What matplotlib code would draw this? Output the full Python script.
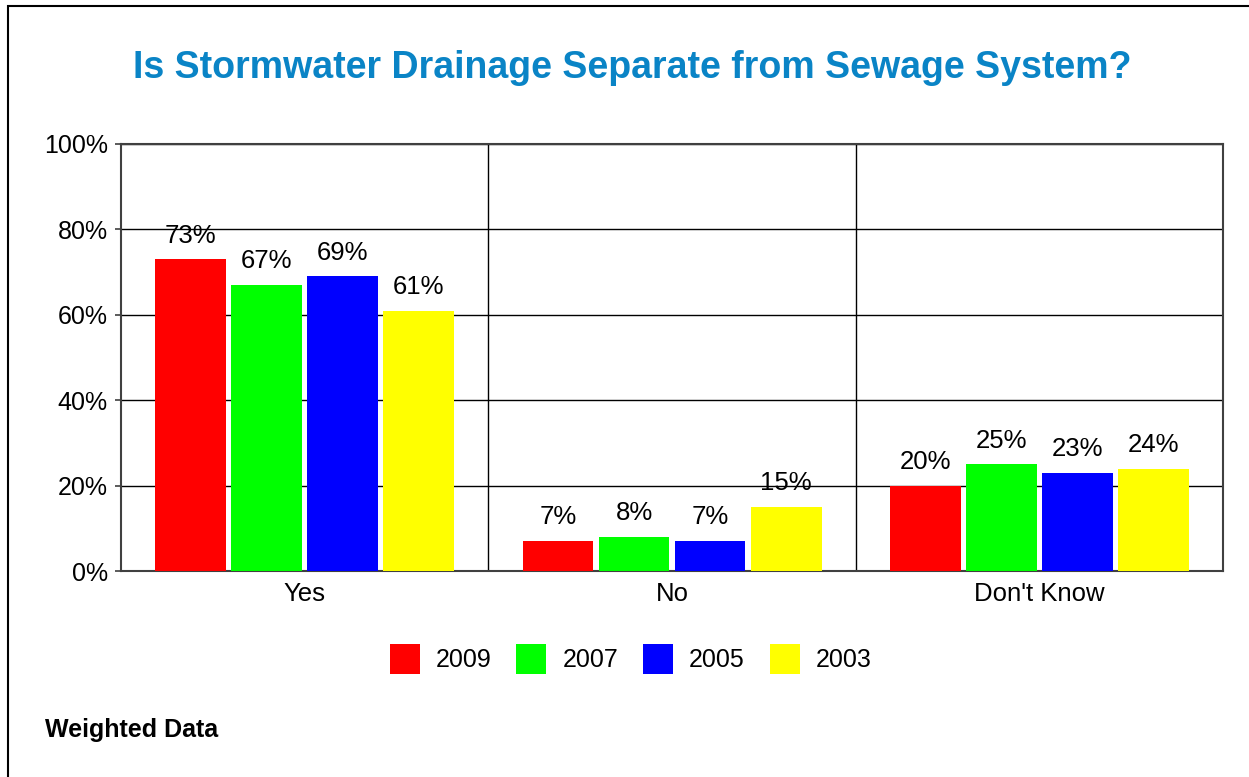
import numpy as np
import matplotlib.pyplot as plt
from matplotlib.patches import Rectangle

plt.rcParams['font.family'] = ['Liberation Sans', 'DejaVu Sans']

# data
categories = ["Yes", "No", "Don't Know"]
years = ["2009", "2007", "2005", "2003"]
values = {
    "2009": [73, 7, 20],
    "2007": [67, 8, 25],
    "2005": [69, 7, 23],
    "2003": [61, 15, 24],
}
colors = ["#FF0000", "#00FF00", "#0000FF", "#FFFF00"]

fig = plt.figure(figsize=(12.49, 7.77), dpi=100)
ax = fig.add_axes([0.0969, 0.2651, 0.8823, 0.5496])

# outer frame
fig.patches.append(Rectangle((8 / 1249, -0.1), 1.2, 1.1 - 6 / 777, transform=fig.transFigure,
                             fill=False, edgecolor="black", linewidth=1.5))

x = np.arange(len(categories))
width = 0.193
step = 0.207
for i, (yr, col) in enumerate(zip(years, colors)):
    pos = x + (i - 1.5) * step
    bars = ax.bar(pos, values[yr], width=width, color=col, label=yr, zorder=3)
    for b, v in zip(bars, values[yr]):
        ax.annotate(f"{v}%", (b.get_x() + b.get_width() / 2, v), xytext=(0, 12),
                    textcoords="offset points", ha="center", va="baseline", fontsize=18.5,
                    zorder=4)

ax.set_xlim(-0.5, 2.5)
ax.set_ylim(0, 100)
ax.set_yticks(range(0, 101, 20))
ax.set_yticklabels([f"{t}%" for t in range(0, 101, 20)], fontsize=18)
ax.set_xticks(x)
ax.set_xticklabels(categories, fontsize=18.5)
ax.tick_params(axis="x", length=0, pad=8)
ax.tick_params(axis="y", length=4.5, width=1.2, color="#404040", pad=5)
ax.grid(axis="y", color="black", linewidth=1, zorder=0)
for sep in [0.5, 1.5]:
    ax.axvline(sep, color="black", linewidth=1, zorder=0)
for s in ax.spines.values():
    s.set_color("#404040")
    s.set_linewidth(1.5)

fig.text(0.506, 1 - 68 / 777, "Is Stormwater Drainage Separate from Sewage System?",
         ha="center", va="center", fontsize=27, fontweight="bold", color="#0A84C6")

fig.legend(loc="center", bbox_to_anchor=(0.505, 0.152), ncol=4, frameon=False,
           fontsize=18, handlelength=1.2, handleheight=1.45, handletextpad=0.64,
           columnspacing=1.0)

fig.text(45 / 1249, 1 - 730 / 777, "Weighted Data", ha="left", va="center",
         fontsize=18, fontweight="bold")

fig.savefig("out.png", dpi=100)
